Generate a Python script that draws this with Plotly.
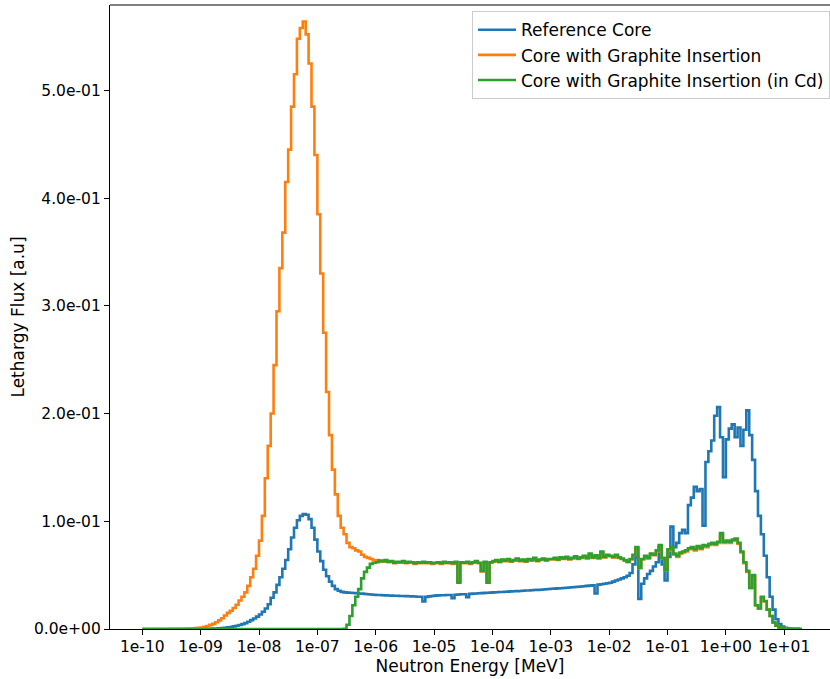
import numpy as np
import plotly.graph_objects as go

# Lethargy bins: 20 groups per decade, 1e-10 MeV .. ~20 MeV
edges = np.logspace(-10, 1.3, 227)

# Per-bin lethargy flux, one row of 20 values per energy decade
reference_core = [
    # 1e-10 .. 1e-09
    0, 0, 0, 0, 0, 0, 0, 0, 0, 0, 0, 0, 0, 0, 0, 0, 0, 0, 0.0001, 0.0001,
    # 1e-09 .. 1e-08
    0.0001, 0.0002, 0.0002, 0.0003, 0.0004, 0.0005, 0.0007, 0.0009, 0.0012, 0.0015,
    0.0019, 0.0024, 0.0030, 0.0037, 0.0045, 0.0055, 0.0067, 0.0082, 0.0098, 0.0115,
    # 1e-08 .. 1e-07
    0.0135, 0.0160, 0.0190, 0.0230, 0.0290, 0.0340, 0.0410, 0.0480, 0.0560, 0.0640,
    0.0740, 0.0850, 0.0940, 0.1010, 0.1050, 0.1068, 0.1060, 0.1020, 0.0940, 0.0830,
    # 1e-07 .. 1e-06
    0.0720, 0.0630, 0.0550, 0.0490, 0.0440, 0.0400, 0.0370, 0.0355, 0.0345, 0.0340,
    0.0338, 0.0336, 0.0334, 0.0332, 0.0330, 0.0328, 0.0325, 0.0322, 0.0320, 0.0318,
    # 1e-06 .. 1e-05
    0.0316, 0.0315, 0.0313, 0.0312, 0.0311, 0.0310, 0.0309, 0.0308, 0.0307, 0.0306,
    0.0305, 0.0304, 0.0303, 0.0302, 0.0300, 0.0299, 0.0255, 0.0298, 0.0303, 0.0306,
    # 1e-05 .. 1e-04
    0.0310, 0.0312, 0.0313, 0.0314, 0.0315, 0.0316, 0.0285, 0.0318, 0.0320, 0.0322,
    0.0323, 0.0295, 0.0326, 0.0328, 0.0330, 0.0332, 0.0333, 0.0335, 0.0336, 0.0338,
    # 1e-04 .. 1e-03
    0.0340, 0.0341, 0.0343, 0.0344, 0.0346, 0.0347, 0.0349, 0.0350, 0.0352, 0.0353,
    0.0355, 0.0357, 0.0358, 0.0360, 0.0362, 0.0363, 0.0365, 0.0367, 0.0369, 0.0371,
    # 1e-03 .. 1e-02
    0.0373, 0.0375, 0.0377, 0.0379, 0.0381, 0.0383, 0.0385, 0.0388, 0.0390, 0.0392,
    0.0395, 0.0397, 0.0400, 0.0403, 0.0406, 0.0330, 0.0412, 0.0416, 0.0420, 0.0425,
    # 1e-02 .. 1e-01
    0.0430, 0.0440, 0.0450, 0.0460, 0.0470, 0.0480, 0.0495, 0.0520, 0.0600, 0.0670,
    0.0280, 0.0420, 0.0470, 0.0510, 0.0540, 0.0580, 0.0620, 0.0760, 0.0600, 0.0450,
    # 1e-01 .. 1e+00
    0.0670, 0.0950, 0.0760, 0.0800, 0.0890, 0.0920, 0.0890, 0.1150, 0.1220, 0.1320,
    0.1280, 0.1300, 0.0960, 0.1550, 0.1650, 0.1750, 0.1980, 0.2060, 0.1780, 0.1410,
    # 1e+00 .. 1e+01
    0.1760, 0.1860, 0.1900, 0.1780, 0.1870, 0.1700, 0.1850, 0.2030, 0.1800, 0.1570,
    0.1280, 0.1050, 0.0880, 0.0680, 0.0480, 0.0300, 0.0180, 0.0090, 0.0045, 0.0022,
    # 1e+01 .. 2e+01
    0.0011, 0.0006, 0.0003, 0.0002, 0.0001, 0.0000,
]

graphite_insertion = [
    # 1e-10 .. 1e-09
    0, 0, 0, 0, 0, 0, 0, 0, 0, 0.0001,
    0.0001, 0.0001, 0.0002, 0.0002, 0.0003, 0.0004, 0.0005, 0.0006, 0.0008, 0.0010,
    # 1e-09 .. 1e-08
    0.0014, 0.0020, 0.0028, 0.0038, 0.0048, 0.0062, 0.0080, 0.0100, 0.0125, 0.0150,
    0.0170, 0.0195, 0.0225, 0.0265, 0.0300, 0.0340, 0.0400, 0.0480, 0.0560, 0.0680,
    # 1e-08 .. 1e-07
    0.0820, 0.1050, 0.1400, 0.1700, 0.2000, 0.2450, 0.2950, 0.3350, 0.3680, 0.4150,
    0.4450, 0.4850, 0.5150, 0.5480, 0.5580, 0.5640, 0.5520, 0.5250, 0.4850, 0.4400,
    # 1e-07 .. 1e-06
    0.3850, 0.3300, 0.2750, 0.2200, 0.1800, 0.1480, 0.1250, 0.1050, 0.0940, 0.0880,
    0.0800, 0.0760, 0.0750, 0.0730, 0.0720, 0.0690, 0.0670, 0.0660, 0.0650, 0.0640,
    # 1e-06 .. 1e-05
    0.0640, 0.0630, 0.0625, 0.0630, 0.0620, 0.0625, 0.0610, 0.0620, 0.0615, 0.0625,
    0.0610, 0.0620, 0.0615, 0.0605, 0.0615, 0.0610, 0.0620, 0.0610, 0.0615, 0.0605,
    # 1e-05 .. 1e-04
    0.0610, 0.0615, 0.0605, 0.0620, 0.0610, 0.0615, 0.0605, 0.0620, 0.0440, 0.0615,
    0.0610, 0.0620, 0.0605, 0.0615, 0.0625, 0.0610, 0.0535, 0.0620, 0.0435, 0.0615,
    # 1e-04 .. 1e-03
    0.0625, 0.0635, 0.0620, 0.0640, 0.0630, 0.0645, 0.0625, 0.0635, 0.0650, 0.0630,
    0.0640, 0.0625, 0.0645, 0.0635, 0.0655, 0.0630, 0.0640, 0.0650, 0.0635, 0.0645,
    # 1e-03 .. 1e-02
    0.0645, 0.0655, 0.0640, 0.0660, 0.0650, 0.0665, 0.0645, 0.0655, 0.0670, 0.0650,
    0.0660, 0.0675, 0.0655, 0.0690, 0.0660, 0.0680, 0.0655, 0.0710, 0.0665, 0.0685,
    # 1e-02 .. 1e-01
    0.0675, 0.0665, 0.0685, 0.0660, 0.0650, 0.0635, 0.0620, 0.0645, 0.0685, 0.0750,
    0.0565, 0.0645, 0.0675, 0.0655, 0.0695, 0.0685, 0.0720, 0.0770, 0.0655, 0.0545,
    # 1e-01 .. 1e+00
    0.0730, 0.0750, 0.0690, 0.0670, 0.0700, 0.0710, 0.0720, 0.0740, 0.0750, 0.0730,
    0.0760, 0.0740, 0.0770, 0.0760, 0.0780, 0.0790, 0.0780, 0.0800, 0.0870, 0.0800,
    # 1e+00 .. 1e+01
    0.0810, 0.0800, 0.0820, 0.0830, 0.0790, 0.0710, 0.0610, 0.0530, 0.0380, 0.0490,
    0.0220, 0.0190, 0.0295, 0.0255, 0.0180, 0.0120, 0.0060, 0.0030, 0.0015, 0.0008,
    # 1e+01 .. 2e+01
    0.0005, 0.0003, 0.0002, 0.0001, 0.0001, 0.0000,
]

graphite_insertion_cd = [
    # 1e-10 .. 1e-09
    0, 0, 0, 0, 0, 0, 0, 0, 0, 0, 0, 0, 0, 0, 0, 0, 0, 0, 0, 0,
    # 1e-09 .. 1e-08
    0, 0, 0, 0, 0, 0, 0, 0, 0, 0, 0, 0, 0, 0, 0, 0, 0, 0, 0, 0,
    # 1e-08 .. 1e-07
    0, 0, 0, 0, 0, 0, 0, 0, 0, 0, 0, 0, 0, 0, 0, 0, 0, 0, 0, 0,
    # 1e-07 .. 1e-06
    0, 0, 0, 0, 0, 0, 0, 0, 0, 0.0003,
    0.0040, 0.0120, 0.0220, 0.0300, 0.0370, 0.0470, 0.0530, 0.0570, 0.0605, 0.0615,
    # 1e-06 .. 1e-05
    0.0620, 0.0635, 0.0630, 0.0640, 0.0625, 0.0630, 0.0615, 0.0625, 0.0620, 0.0630,
    0.0615, 0.0625, 0.0620, 0.0610, 0.0620, 0.0615, 0.0625, 0.0615, 0.0620, 0.0610,
    # 1e-05 .. 1e-04
    0.0615, 0.0620, 0.0610, 0.0625, 0.0615, 0.0620, 0.0610, 0.0625, 0.0430, 0.0620,
    0.0615, 0.0625, 0.0610, 0.0620, 0.0630, 0.0615, 0.0540, 0.0625, 0.0430, 0.0620,
    # 1e-04 .. 1e-03
    0.0630, 0.0640, 0.0625, 0.0645, 0.0635, 0.0650, 0.0630, 0.0640, 0.0655, 0.0635,
    0.0645, 0.0630, 0.0650, 0.0640, 0.0660, 0.0635, 0.0645, 0.0655, 0.0640, 0.0650,
    # 1e-03 .. 1e-02
    0.0650, 0.0660, 0.0645, 0.0665, 0.0655, 0.0670, 0.0650, 0.0660, 0.0675, 0.0655,
    0.0665, 0.0680, 0.0660, 0.0700, 0.0665, 0.0685, 0.0660, 0.0720, 0.0670, 0.0690,
    # 1e-02 .. 1e-01
    0.0680, 0.0670, 0.0690, 0.0665, 0.0655, 0.0640, 0.0625, 0.0650, 0.0690, 0.0760,
    0.0570, 0.0650, 0.0680, 0.0660, 0.0700, 0.0690, 0.0730, 0.0780, 0.0660, 0.0550,
    # 1e-01 .. 1e+00
    0.0740, 0.0760, 0.0700, 0.0680, 0.0710, 0.0720, 0.0730, 0.0750, 0.0760, 0.0740,
    0.0770, 0.0750, 0.0780, 0.0770, 0.0790, 0.0800, 0.0790, 0.0810, 0.0890, 0.0810,
    # 1e+00 .. 1e+01
    0.0820, 0.0810, 0.0830, 0.0840, 0.0800, 0.0720, 0.0620, 0.0540, 0.0380, 0.0500,
    0.0220, 0.0190, 0.0300, 0.0260, 0.0180, 0.0120, 0.0060, 0.0030, 0.0015, 0.0008,
    # 1e+01 .. 2e+01
    0.0005, 0.0003, 0.0002, 0.0001, 0.0001, 0.0000,
]

series_names = [
    "Reference Core",
    "Core with Graphite Insertion",
    "Core with Graphite Insertion (in Cd)",
]
series_colors = ["#1f77b4", "#ff7f0e", "#2ca02c"]

x_tick_vals = [1e-10, 1e-9, 1e-8, 1e-7, 1e-6, 1e-5, 1e-4, 1e-3, 1e-2, 1e-1, 1e0, 1e1]
x_tick_text = ["1e-10", "1e-09", "1e-08", "1e-07", "1e-06", "1e-05", "1e-04",
               "1e-03", "1e-02", "1e-01", "1e+00", "1e+01"]
y_tick_vals = [0.0, 0.1, 0.2, 0.3, 0.4, 0.5]
y_tick_text = ["0.0e+00", "1.0e-01", "2.0e-01", "3.0e-01", "4.0e-01", "5.0e-01"]

FONT = "DejaVu Sans"
FS = 17        # axis titles and legend
FS_TICK = 15.5  # tick labels

fig = go.Figure()
for name, color, vals in zip(series_names, series_colors,
                             [reference_core, graphite_insertion, graphite_insertion_cd]):
    # step histogram: each value held across its bin, closed at the last edge
    fig.add_trace(go.Scatter(
        x=list(edges),
        y=list(vals) + [vals[-1]],
        mode="lines",
        line=dict(color=color, width=2.6, shape="hv"),
        name=name,
    ))

fig.update_layout(
    width=830, height=679,
    margin=dict(l=110, r=0, t=5, b=50, autoexpand=False),
    paper_bgcolor="white", plot_bgcolor="white",
    font=dict(family=FONT, size=FS, color="black"),
    showlegend=True,
    legend=dict(
        x=1.0, y=0.99, xanchor="right", yanchor="top",
        bgcolor="white", bordercolor="#cccccc", borderwidth=1,
        font=dict(family=FONT, size=FS),
        itemwidth=38,
        tracegroupgap=0,
    ),
    shapes=[dict(type="line", xref="paper", yref="paper",
                 x0=0, x1=1, y0=1, y1=1,
                 line=dict(color="#808080", width=2.2))],
)

fig.update_xaxes(
    type="log",
    range=[-10.553, 1.784],
    tickvals=x_tick_vals, ticktext=x_tick_text, tickangle=0,
    showline=True, linecolor="black", linewidth=1.2,
    ticks="outside", ticklen=5, tickwidth=1.1, tickcolor="black",
    ticklabelstandoff=-2,
    showgrid=False, zeroline=False, automargin=False,
    tickfont=dict(family=FONT, size=FS_TICK),
    title=dict(text="Neutron Energy [MeV]", font=dict(family=FONT, size=FS), standoff=0),
)
fig.update_yaxes(
    range=[0, 0.5793],
    tickvals=y_tick_vals, ticktext=y_tick_text,
    showline=True, linecolor="black", linewidth=1.2,
    ticks="outside", ticklen=5, tickwidth=1.1, tickcolor="black",
    showgrid=False, zeroline=False, automargin=False,
    tickfont=dict(family=FONT, size=FS_TICK),
    title=dict(text="Lethargy Flux [a.u]", font=dict(family=FONT, size=FS), standoff=4),
)

fig.write_html("out.html")
